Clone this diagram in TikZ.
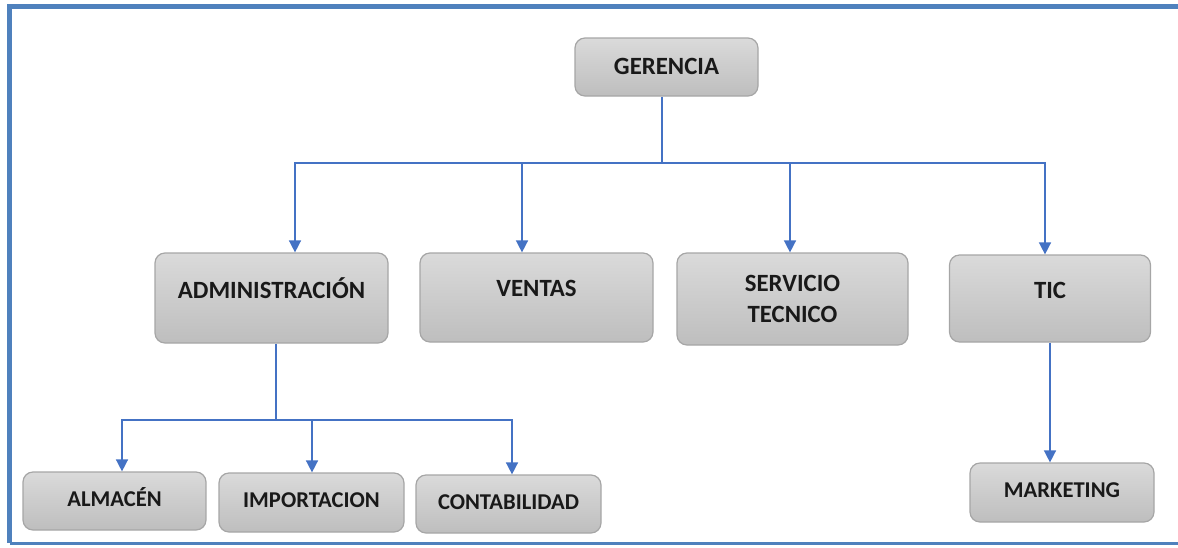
\documentclass[tikz,border=0pt]{standalone}
\usepackage{fontspec}
\setmainfont{Carlito}
\usetikzlibrary{arrows.meta}

\definecolor{framblue}{HTML}{4F81BD}
\definecolor{linkblue}{HTML}{4472C4}
\definecolor{boxtop}{HTML}{DADADA}
\definecolor{boxbot}{HTML}{BEBEBE}
\definecolor{boxline}{HTML}{A6A6A6}

\tikzset{
  box/.style={draw=boxline, line width=1.2, rounded corners=10,
    top color=boxtop, bottom color=boxbot, align=center,
    font=\bfseries\fontsize{24.8}{31}\selectfont, text=black!90},
  leafbox/.style={box, font=\bfseries\fontsize{22.6}{28}\selectfont},
  wire/.style={linkblue, line width=1.5},
  link/.style={wire, -{Triangle[length=12,width=12]}},
}

\begin{document}
\begin{tikzpicture}[x=1pt,y=-1pt]
      \useasboundingbox (0,0) rectangle (1178,547) ;
      % frame
      \draw[framblue, line width=5] (1178,6.7) -- (9.5,6.7) -- (9.5,543) ;
      \draw[framblue, line width=3] (9.5,543) -- (1178,543) ;
      % boxes
      \node[box, minimum width=183, minimum height=58, text depth=2] (ger) at (666.5,67) {GERENCIA} ;
      \node[box, minimum width=233, minimum height=90, text depth=20] (adm) at (271.5,298) {ADMINISTRACIÓN} ;
      \node[box, minimum width=233, minimum height=89, text depth=18] (ven) at (536.5,297.5) {VENTAS} ;
      \node[box, minimum width=231, minimum height=92] (ser) at (792.5,299) {SERVICIO\\TECNICO} ;
      \node[box, minimum width=201, minimum height=87, text depth=16] (tic) at (1050,298.5) {TIC} ;
      \node[leafbox, minimum width=183, minimum height=58, text depth=8] (alm) at (114.5,501) {ALMACÉN} ;
      \node[leafbox, minimum width=185, minimum height=59, text depth=4] (imp) at (311.5,502.5) {IMPORTACION} ;
      \node[leafbox, minimum width=185, minimum height=58, text depth=4] (con) at (508.5,504) {CONTABILIDAD} ;
      \node[leafbox, minimum width=184, minimum height=59, text depth=4] (mkt) at (1062,492.5) {MARKETING} ;
      % connectors
      \coordinate (bus1) at (662,163) ;
      \coordinate (bus2) at (276,420) ;
      \draw[wire] (bus1 |- ger.south) -- (bus1) ;
      \foreach \n/\x in {adm/295,ven/522,ser/790,tic/1045}
        \draw[link] (bus1) -| (\x,0 |- \n.north) ;
      \draw[wire] (bus2 |- adm.south) -- (bus2) ;
      \foreach \n/\x in {alm/122,imp/312,con/512}
        \draw[link] (bus2) -| (\x,0 |- \n.north) ;
      \draw[link] (tic.south) -- (tic.south |- mkt.north) ;
    \end{tikzpicture}
\end{document}
